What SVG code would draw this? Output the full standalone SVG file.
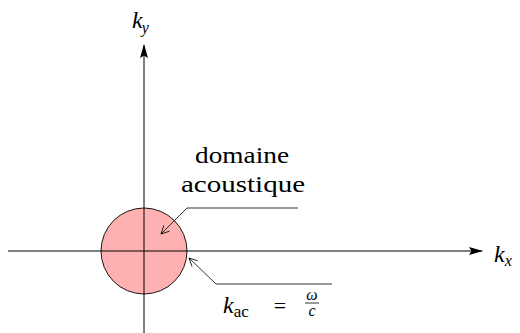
<svg xmlns="http://www.w3.org/2000/svg" width="520" height="333" viewBox="0 0 520 333" font-family="Liberation Serif, serif">
<defs>
<marker id="big" viewBox="0 0 14 8" refX="13" refY="4" markerWidth="14" markerHeight="8" markerUnits="userSpaceOnUse" orient="auto">
<path d="M0,0 L14,4 L0,8 L2.5,4 Z" fill="#000"/>
</marker>
<marker id="small" viewBox="0 0 10 10" refX="9" refY="5" markerWidth="10" markerHeight="10" markerUnits="userSpaceOnUse" orient="auto">
<path d="M1,1 L9,5 L1,9" fill="none" stroke="#000" stroke-width="0.8"/>
</marker>
</defs>
<rect width="520" height="333" fill="#fff"/>
<g id="domain">
<circle cx="144" cy="251" r="43" fill="#ffb0b0" stroke="#000" stroke-width="0.9"/>
</g>
<g id="axes" stroke="#000" stroke-width="1" fill="none">
<line x1="8" y1="251" x2="482" y2="251" marker-end="url(#big)"/>
<line x1="144" y1="333" x2="144" y2="45" marker-end="url(#big)"/>
</g>
<g id="connectors" stroke="#000" stroke-width="0.8" fill="none">
<polyline points="298,208 187,208 161,234" marker-end="url(#small)"/>
<polyline points="332,284 216,284 189,258" marker-end="url(#small)"/>
</g>
<g id="label-ky">
<text x="132" y="28" style="font-family:'Liberation Serif',serif;font-size:24px;font-style:italic">k<tspan style="font-size:16px" dx="-1" dy="5">y</tspan></text>
</g>
<g id="label-kx">
<text x="494" y="262" style="font-family:'Liberation Serif',serif;font-size:24px;font-style:italic">k<tspan style="font-size:16px" dy="4">x</tspan></text>
</g>
<g id="label-domain">
<text x="195" y="163" style="font-family:'Liberation Serif',serif;font-size:23px" textLength="94" lengthAdjust="spacingAndGlyphs">domaine</text>
<text x="181" y="192" style="font-family:'Liberation Serif',serif;font-size:23px" textLength="124" lengthAdjust="spacingAndGlyphs">acoustique</text>
</g>
<g id="label-kac">
<text x="223" y="313" style="font-family:'Liberation Serif',serif;font-size:24px;font-style:italic">k<tspan style="font-size:17px;font-style:normal" dy="4">ac</tspan></text>
<text x="280" y="313" style="font-family:'Liberation Serif',serif;font-size:22px" text-anchor="middle">=</text>
<text x="312" y="300" style="font-family:'Liberation Serif',serif;font-size:16px;font-style:italic" text-anchor="middle">ω</text>
<line x1="305" y1="303" x2="319" y2="303" stroke="#000" stroke-width="0.8"/>
<text x="312" y="316" style="font-family:'Liberation Serif',serif;font-size:16px;font-style:italic" text-anchor="middle">c</text>
</g>
</svg>
